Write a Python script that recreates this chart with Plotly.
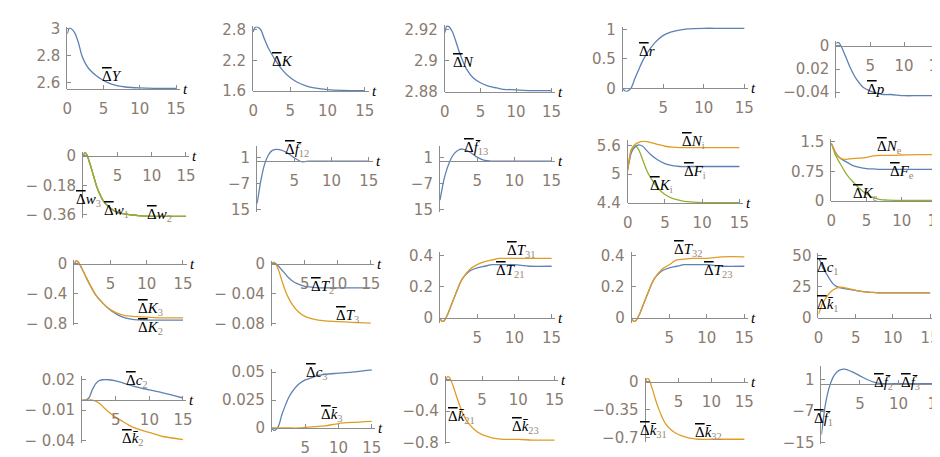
import plotly.graph_objects as go

W, H = 940, 457

# time grid shared by all responses
t = [0, 0.25, 0.5, 1, 1.5, 2, 2.5, 3, 4, 5, 6, 7, 8, 10, 12, 15]

# row 1
dY = [2.96, 3.0, 3.0, 2.97, 2.9, 2.8, 2.74, 2.7, 2.65, 2.615, 2.59, 2.575, 2.567, 2.56, 2.557, 2.556]
dK = [2.75, 2.84, 2.85, 2.8, 2.62, 2.45, 2.32, 2.2, 2.0, 1.86, 1.77, 1.71, 1.67, 1.63, 1.615, 1.61]
dN = [2.918, 2.922, 2.922, 2.919, 2.913, 2.906, 2.9, 2.895, 2.889, 2.886, 2.884, 2.883, 2.882, 2.8815, 2.881, 2.881]
dr = [0, -0.04, -0.05, 0.0, 0.17, 0.33, 0.48, 0.6, 0.78, 0.9, 0.96, 0.99, 1.01, 1.02, 1.02, 1.02]
dp = [0.002, 0.003, 0.002, -0.004, -0.011, -0.018, -0.024, -0.029, -0.036, -0.039, -0.041, -0.042, -0.042, -0.043, -0.043, -0.043]

# row 2
dw = [0, 0.02, 0.01, -0.05, -0.12, -0.19, -0.24, -0.28, -0.32, -0.345, -0.355, -0.36, -0.365, -0.37, -0.37, -0.37]
df12 = [-13, -9.5, -6, -1, 1.8, 3.2, 3.6, 3.5, 2.6, 1.0, -0.2, 0, 0, 0, 0, 0]
df13 = [-12, -9, -6, -2, 0.8, 2.5, 3.4, 3.7, 2.8, 1.2, 0.2, 0, 0, 0, 0, 0]
dNi = [5.08, 5.35, 5.52, 5.62, 5.66, 5.68, 5.68, 5.66, 5.62, 5.58, 5.56, 5.55, 5.55, 5.55, 5.55, 5.55]
dFi = [5.1, 5.3, 5.45, 5.57, 5.61, 5.58, 5.5, 5.42, 5.3, 5.22, 5.18, 5.16, 5.16, 5.16, 5.16, 5.16]
dKi = [5.1, 5.35, 5.5, 5.59, 5.5, 5.3, 5.1, 4.95, 4.72, 4.58, 4.5, 4.46, 4.43, 4.41, 4.41, 4.41]
dNe = [1.45, 1.35, 1.25, 1.12, 1.06, 1.05, 1.06, 1.07, 1.08, 1.1, 1.14, 1.15, 1.15, 1.16, 1.17, 1.17]
dFe = [1.45, 1.35, 1.25, 1.12, 1.05, 1.0, 0.95, 0.9, 0.85, 0.82, 0.81, 0.8, 0.8, 0.8, 0.8, 0.8]
dKe = [1.45, 1.33, 1.2, 1.02, 0.87, 0.72, 0.6, 0.5, 0.32, 0.18, 0.09, 0.04, 0.03, 0.02, 0.02, 0.02]

# row 3
dK3 = [0, 0.04, 0.03, -0.05, -0.15, -0.25, -0.34, -0.42, -0.53, -0.61, -0.66, -0.69, -0.7, -0.71, -0.72, -0.72]
dK2 = [0, 0.04, 0.03, -0.05, -0.15, -0.25, -0.34, -0.42, -0.53, -0.62, -0.68, -0.72, -0.74, -0.75, -0.75, -0.75]
dT2 = [0, 0.002, 0.001, -0.003, -0.008, -0.013, -0.018, -0.022, -0.027, -0.03, -0.031, -0.032, -0.032, -0.032, -0.032, -0.032]
dT3 = [0, 0.002, 0.001, -0.008, -0.022, -0.035, -0.045, -0.053, -0.064, -0.07, -0.073, -0.075, -0.076, -0.077, -0.078, -0.079]
dT31 = [0, -0.02, -0.02, 0.02, 0.08, 0.14, 0.2, 0.25, 0.31, 0.34, 0.36, 0.37, 0.38, 0.38, 0.38, 0.38]
dT21 = [0, -0.02, -0.02, 0.02, 0.08, 0.14, 0.2, 0.25, 0.3, 0.32, 0.33, 0.34, 0.34, 0.34, 0.33, 0.33]
dT32 = [0, -0.02, -0.02, 0.02, 0.08, 0.14, 0.2, 0.25, 0.31, 0.34, 0.37, 0.375, 0.38, 0.38, 0.39, 0.39]
dT23 = [0, -0.02, -0.02, 0.02, 0.08, 0.14, 0.2, 0.25, 0.3, 0.32, 0.33, 0.34, 0.34, 0.34, 0.33, 0.33]
dc1 = [48, 45, 41, 36, 31, 27, 25, 24, 23, 22, 21, 20.5, 20, 20, 20, 20]
dk1 = [3, 7, 11, 16, 20, 22.5, 24, 24.5, 23.5, 22, 21, 20.5, 20, 20, 20, 20]

# row 4
dc2 = [0, 0, 0, 0.002, 0.01, 0.016, 0.019, 0.02, 0.02, 0.019, 0.017, 0.015, 0.013, 0.01, 0.007, 0.002]
dk2 = [0, 0, 0, 0, 0, -0.001, -0.003, -0.006, -0.012, -0.017, -0.021, -0.025, -0.028, -0.032, -0.036, -0.039]
dc3 = [0, -0.002, -0.002, 0.002, 0.012, 0.02, 0.027, 0.032, 0.039, 0.043, 0.045, 0.047, 0.048, 0.049, 0.05, 0.052]
dk3 = [0, 0, 0, 0, 0, 0, 0, 0, 0, 0.0005, 0.001, 0.0015, 0.002, 0.004, 0.005, 0.006]
dk21 = [0, 0.04, 0.03, -0.08, -0.22, -0.35, -0.46, -0.54, -0.64, -0.7, -0.73, -0.75, -0.76, -0.76, -0.77, -0.77]
dk31 = [0, 0.04, 0.03, -0.08, -0.22, -0.34, -0.44, -0.52, -0.61, -0.66, -0.69, -0.71, -0.72, -0.72, -0.72, -0.72]
df1 = [-13, -9, -5.5, -1, 1.6, 3.0, 3.6, 3.7, 3.0, 2.0, 1.0, 0.3, 0, 0, 0, 0]

BLUE, ORANGE, GREEN = "#5e81b5", "#e19c24", "#8fb032"
TICK_COL = "#8a7b70"
AXIS_COL = "#8c8c8c"


def lab(sym, sub="", bar=False):
    s = ("<span style='text-decoration:overline'>\u0394</span><i>" + sym
         + ("\u0304" if bar else "") + "</i>")
    if sub:
        s += "<sub><span style='color:#9a8a7c'>" + sub + "</span></sub>"
    return s


M = "\u2212"
panels = [
    # row 1
    dict(x0=55, x15=165, ymap=((3, 14), (2.6, 70)), yr=(2.55, 3.01), axis=2.55,
         yt=[2.6, 2.8, 3], ytx=["2.6", "2.8", "3"], xt=[0, 5, 10, 15],
         lines=[(dY, BLUE)], labels=[(lab("Y"), 6.2, 2.65)]),
    dict(x0=243, x15=356, ymap=((2.8, 15), (1.6, 79)), yr=(1.6, 2.86), axis=1.6,
         yt=[1.6, 2.2, 2.8], ytx=["1.6", "2.2", "2.8"], xt=[0, 5, 10, 15],
         lines=[(dK, BLUE)], labels=[(lab("K"), 4.0, 2.18)]),
    dict(x0=437, x15=545, ymap=((2.92, 15), (2.88, 80)), yr=(2.88, 2.923), axis=2.88,
         yt=[2.88, 2.9, 2.92], ytx=["2.88", "2.9", "2.92"], xt=[0, 5, 10, 15],
         lines=[(dN, BLUE)], labels=[(lab("N"), 2.6, 2.899)]),
    dict(x0=617, x15=740, ymap=((1, 15), (0, 76)), yr=(-0.06, 1.04), axis=0,
         yt=[0, 0.5, 1], ytx=["0", "0.5", "1"], xt=[5, 10, 15],
         lines=[(dr, BLUE)], labels=[(lab("r"), 3.0, 0.64)]),
    dict(x0=833, x15=936, ymap=((0, 32), (-0.04, 80)), yr=(-0.045, 0.004), axis=0,
         yt=[0, -0.02, -0.04], ytx=["0", "0.02", M + "0.04"], xt=[5, 10, 15],
         lines=[(dp, BLUE)], labels=[(lab("p"), 5.8, -0.037)]),
    # row 2
    dict(x0=71, x15=175, ymap=((0, 146), (-0.36, 207)), yr=(-0.38, 0.025), axis=0,
         yt=[0, -0.18, -0.36], ytx=["0", M + " 0.18", M + " 0.36"], xt=[5, 10, 15],
         lines=[(dw, BLUE), (dw, ORANGE), (dw, GREEN)],
         labels=[(lab("w", "3"), 0.8, -0.27), (lab("w", "1"), 4.8, -0.34), (lab("w", "2"), 11.2, -0.36)]),
    dict(x0=247, x15=360, ymap=((1, 148), (-15, 202)), yr=(-15.5, 4.5), axis=0,
         yt=[1, -7, -15], ytx=["1", M + "7", "15"], xt=[5, 10, 15],
         lines=[(df12, BLUE)], labels=[(lab("f", "12", True), 5.4, 3.4)]),
    dict(x0=432, x15=545, ymap=((1, 148), (-15, 202)), yr=(-15.5, 4.5), axis=0,
         yt=[1, -7, -15], ytx=["1", M + "7", "15"], xt=[5, 10, 15],
         lines=[(df13, BLUE)], labels=[(lab("f", "13", True), 4.8, 4.0)]),
    dict(x0=622, x15=735, ymap=((5.6, 135), (4.4, 195)), yr=(4.4, 5.7), axis=4.4,
         yt=[4.4, 5, 5.6], ytx=["4.4", "5", "5.6"], xt=[0, 5, 10, 15],
         lines=[(dKi, GREEN), (dFi, BLUE), (dNi, ORANGE)],
         labels=[(lab("N", "i"), 8.8, 5.66), (lab("F", "i"), 9.0, 5.05), (lab("K", "i"), 4.6, 4.75)]),
    dict(x0=828, x15=935, ymap=((1.5, 131), (0, 193)), yr=(0, 1.55), axis=0,
         yt=[0, 0.75, 1.5], ytx=["0", "0.75", "1.5"], xt=[0, 5, 10, 15],
         lines=[(dKe, GREEN), (dFe, BLUE), (dNe, ORANGE)],
         labels=[(lab("N", "e"), 8.3, 1.36), (lab("F", "e"), 10.0, 0.74), (lab("K", "e"), 4.8, 0.17)]),
    # row 3
    dict(x0=62, x15=172, ymap=((0, 258), (-0.8, 320)), yr=(-0.82, 0.05), axis=0,
         yt=[0, -0.4, -0.8], ytx=["0", M + " 0.4", M + " 0.8"], xt=[5, 10, 15],
         lines=[(dK2, BLUE), (dK3, ORANGE)],
         labels=[(lab("K", "3"), 10.5, -0.6), (lab("K", "2"), 10.5, -0.8, -4)]),
    dict(x0=262, x15=362, ymap=((0, 258), (-0.08, 320)), yr=(-0.083, 0.004), axis=0,
         yt=[0, -0.04, -0.08], ytx=["0", M + " 0.04", M + " 0.08"], xt=[5, 10, 15],
         lines=[(dT2, BLUE), (dT3, ORANGE)],
         labels=[(lab("T", "2"), 7.7, -0.031), (lab("T", "3"), 11.5, -0.069)]),
    dict(x0=432, x15=545, ymap=((0.4, 249), (0, 314)), yr=(-0.03, 0.42), axis=0,
         yt=[0, 0.2, 0.4], ytx=["0", "0.2", "0.4"], xt=[5, 10, 15],
         lines=[(dT21, BLUE), (dT31, ORANGE)],
         labels=[(lab("T", "31"), 11.0, 0.41, 3), (lab("T", "21"), 9.5, 0.3)]),
    dict(x0=626, x15=740, ymap=((0.4, 249), (0, 314)), yr=(-0.03, 0.42), axis=0,
         yt=[0, 0.2, 0.4], ytx=["0", "0.2", "0.4"], xt=[5, 10, 15],
         lines=[(dT23, BLUE), (dT32, ORANGE)],
         labels=[(lab("T", "32"), 7.5, 0.41, 4), (lab("T", "23"), 11.5, 0.3)]),
    dict(x0=815, x15=928, ymap=((50, 249), (0, 314)), yr=(0, 52), axis=0,
         yt=[0, 25, 50], ytx=["0", "25", "50"], xt=[0, 5, 10, 15],
         lines=[(dc1, BLUE), (dk1, ORANGE)],
         labels=[(lab("c", "1"), 1.3, 40), (lab("k", "1", True), 1.3, 10)]),
    # row 4
    dict(x0=70, x15=172, ymap=((0.02, 378), (-0.04, 441)), yr=(-0.042, 0.024), axis=0,
         yt=[0.02, -0.01, -0.04], ytx=["0.02", M + " 0.01", M + " 0.04"], xt=[5, 10, 15],
         lines=[(dc2, BLUE), (dk2, ORANGE)],
         labels=[(lab("c", "2"), 8.2, 0.019), (lab("k", "2", True), 7.5, -0.038)]),
    dict(x0=262, x15=363, ymap=((0.05, 370), (0, 428)), yr=(-0.004, 0.053), axis=0,
         yt=[0, 0.025, 0.05], ytx=["0", "0.025", "0.05"], xt=[5, 10, 15],
         lines=[(dc3, BLUE), (dk3, ORANGE)],
         labels=[(lab("c", "3"), 6.8, 0.049), (lab("k", "3", True), 9.0, 0.012)]),
    dict(x0=438, x15=548, ymap=((0, 378), (-0.8, 443)), yr=(-0.82, 0.05), axis=0,
         yt=[0, -0.4, -0.8], ytx=["0", M + "0.4", M + "0.8"], xt=[5, 10, 15],
         lines=[(dk21, ORANGE)],
         labels=[(lab("k", "21", True), 2.2, -0.48), (lab("k", "23", True), 11.0, -0.6)]),
    dict(x0=640, x15=740, ymap=((0, 380), (-0.7, 438)), yr=(-0.75, 0.05), axis=0,
         yt=[0, -0.35, -0.7], ytx=["0", M + "0.35", M + "0.7"], xt=[5, 10, 15],
         lines=[(dk31, ORANGE)],
         labels=[(lab("k", "31", True), 1.2, -0.62), (lab("k", "32", True), 9.5, -0.64)]),
    dict(x0=818, x15=935, ymap=((1, 378), (-15, 443)), yr=(-15.5, 4.5), axis=0,
         yt=[1, -7, -15], ytx=["1", M + "7", M + "15"], xt=[5, 10, 15],
         lines=[(df1, BLUE)],
         labels=[(lab("f", "2", True), 8.0, 0.3), (lab("f", "3", True), 11.5, 0.3),
                 (lab("f", "1", True), 0.3, -9)]),
]

fig = go.Figure()
layout = {}
annotations = []
tick_font = dict(family="DejaVu Sans", size=15, color=TICK_COL)
label_font = dict(family="Liberation Serif", size=15, color="black")

for i, p in enumerate(panels, 1):
    xa = "x" if i == 1 else f"x{i}"
    ya = "y" if i == 1 else f"y{i}"
    ppu = (p["x15"] - p["x0"]) / 15
    xend = min(W, p["x0"] + 15.5 * ppu)
    xmax = (xend - p["x0"]) / ppu
    (v1, py1), (v2, py2) = p["ymap"]
    k = (py2 - py1) / (v2 - v1)

    def py(v):
        return py1 + (v - v1) * k

    ytop, ybot = py(p["yr"][1]), py(p["yr"][0])
    layout[xa.replace("x", "xaxis")] = dict(
        domain=[p["x0"] / W, xend / W], range=[0, xmax], anchor="free",
        position=1 - py(p["axis"]) / H, showline=True, linecolor=AXIS_COL,
        linewidth=1, ticks="inside", ticklen=4, tickcolor=AXIS_COL,
        tickvals=p["xt"], showgrid=False, zeroline=False, tickfont=tick_font,
        ticklabelstandoff=6,
    )
    layout[ya.replace("y", "yaxis")] = dict(
        domain=[1 - ybot / H, 1 - ytop / H], range=list(p["yr"]), anchor=xa,
        showline=True, linecolor=AXIS_COL, linewidth=1, ticks="inside",
        ticklen=4, tickcolor=AXIS_COL, tickvals=p["yt"], ticktext=p["ytx"],
        showgrid=False, zeroline=False, tickfont=tick_font, ticklabelstandoff=3,
    )
    for vals, col in p["lines"]:
        fig.add_trace(go.Scatter(
            x=t, y=vals, xaxis=xa, yaxis=ya, mode="lines",
            line=dict(color=col, width=1.3, shape="spline", smoothing=0.8),
            hoverinfo="skip",
        ))
    for lb in p["labels"]:
        text, tx, ty = lb[:3]
        annotations.append(dict(
            x=tx, y=ty, xref=xa, yref=ya, text=text, showarrow=False,
            yshift=lb[3] if len(lb) > 3 else 0, font=label_font,
        ))
    annotations.append(dict(
        x=xmax, y=p["axis"], xref=xa, yref=ya, text="<i>t</i>",
        showarrow=False, xanchor="left", xshift=1,
        font=dict(family="Liberation Serif", size=15, color="black"),
    ))

fig.update_layout(
    width=W, height=H, margin=dict(l=0, r=0, t=0, b=0),
    plot_bgcolor="white", paper_bgcolor="white", showlegend=False,
    annotations=annotations, **layout,
)

fig.write_html("out.html")
